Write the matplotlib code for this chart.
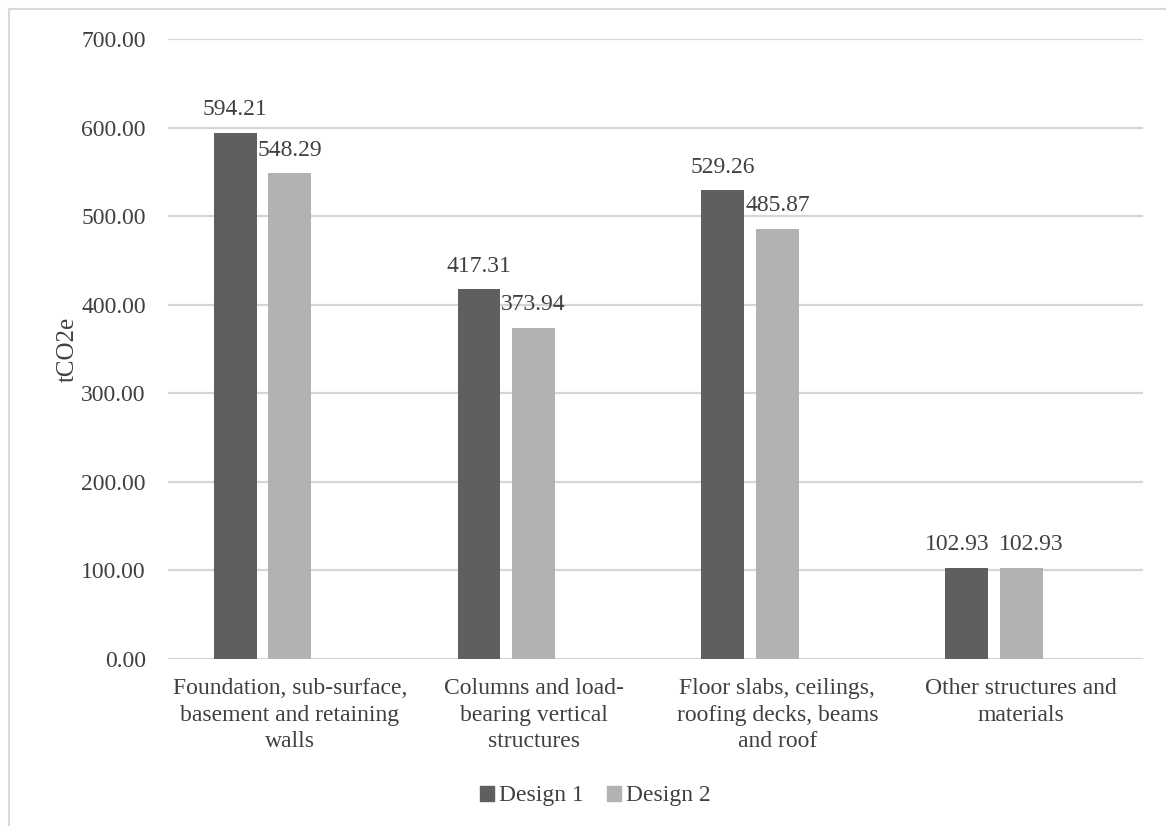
import matplotlib
matplotlib.use("Agg")
import matplotlib.pyplot as plt
from matplotlib.lines import Line2D
from matplotlib.patches import Patch
import numpy as np

categories = ["Foundation, sub-surface,\nbasement and retaining\nwalls",
              "Columns and load-\nbearing vertical\nstructures",
              "Floor slabs, ceilings,\nroofing decks, beams\nand roof",
              "Other structures and\nmaterials"]
series_names = ["Design 1", "Design 2"]
design1 = [594.21, 417.31, 529.26, 102.93]
design2 = [548.29, 373.94, 485.87, 102.93]
yticks = [0, 100, 200, 300, 400, 500, 600, 700]

plt.rcParams['font.family'] = ['Liberation Serif', 'DejaVu Serif']
txt = '#404040'
c1, c2 = '#5f5f5f', '#b2b2b2'

fig = plt.figure(figsize=(11.66, 8.26), dpi=100)
ax = fig.add_axes([168/1166, 1-659/826, 975/1166, 620/826])

x = np.arange(len(categories))
w = 0.176
off1, off2 = -0.224, 0.0
b1 = ax.bar(x + off1, design1, w, color=c1, label=series_names[0], zorder=3)
b2 = ax.bar(x + off2, design2, w, color=c2, label=series_names[1], zorder=3)

# horizontal nudge (points) so the last group's labels do not collide
nudge1 = [0, 0, 0, -7]
nudge2 = [0, 0, 0, 7]
for bars, vals, nd in ((b1, design1, nudge1), (b2, design2, nudge2)):
    for r, v, n in zip(bars, vals, nd):
        ax.annotate(f"{v:.2f}", (r.get_x() + r.get_width()/2, v),
                    xytext=(n, 9), textcoords='offset points',
                    ha='center', va='bottom', fontsize=17, color=txt)

ax.set_xlim(-0.5, len(categories) - 0.5)
ax.set_ylim(0, 700)
ax.set_yticks(yticks)
ax.set_yticklabels([f"{t:.2f}" for t in yticks], fontsize=17, color=txt)
ax.set_xticks(x)
ax.set_xticklabels(categories, fontsize=17, color=txt, linespacing=1.32)
ax.tick_params(length=0)
ax.tick_params(axis='y', pad=16)
ax.tick_params(axis='x', pad=14)
ax.grid(axis='y', color='#d6d6d6', linewidth=1.6, zorder=0)
for s in ax.spines.values():
    s.set_visible(False)
ax.set_ylabel("tCO2e", fontsize=18, color=txt)
ax.yaxis.set_label_coords(-0.092, 0.5)

handles = [Patch(color=c1), Patch(color=c2)]
fig.legend(handles, series_names, loc='center', bbox_to_anchor=(595/1166, 1-796/826),
           ncol=2, frameon=False, fontsize=17, handlelength=0.6, handleheight=0.6,
           handletextpad=0.2, columnspacing=1.0, labelcolor=txt)

fig.add_artist(Line2D([9/1166, 9/1166], [0, 1-9/826], transform=fig.transFigure,
                      color='#d9d9d9', linewidth=1.5))
fig.add_artist(Line2D([9/1166, 1], [1-9/826, 1-9/826], transform=fig.transFigure,
                      color='#d9d9d9', linewidth=1.5))

fig.savefig("out.png", dpi=100)
